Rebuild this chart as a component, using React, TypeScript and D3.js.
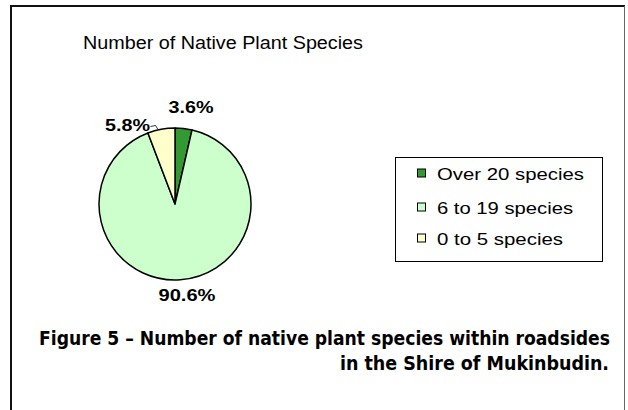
import React from "react";
import * as d3 from "d3";

const categories = ["Over 20 species", "6 to 19 species", "0 to 5 species"];
const values = [3.6, 90.6, 5.8];
const labels = ["3.6%", "90.6%", "5.8%"];
const colors = ["#339933", "#CCFFCC", "#FFFFCC"];
const title = "Number of Native Plant Species";
const caption1 = "Figure 5 \u2013 Number of native plant species within roadsides";
const caption2 = "in the Shire of Mukinbudin.";

export default function App() {
  const W = 628, H = 410;
  const cx = 175, cy = 204, r = 76;
  const pie = d3.pie<number>().sort(null).startAngle(0).endAngle(2 * Math.PI);
  const arcs = pie(values);
  const arc = d3.arc<d3.PieArcDatum<number>>().innerRadius(0).outerRadius(r);

  // label layout (Excel-style placement around the pie)
  const labelPos = [
    { x: 168.5, y: 113, len: 45 },
    { x: 158.5, y: 301, len: 57 },
    { x: 105, y: 130.5, len: 45 },
  ];
  const legendRowsY = [172.5, 206.5, 237.5];
  const legendTextLen = [147, 136, 126];
  const sans = "'Liberation Sans', Arial, sans-serif";
  const capFont = "'Liberation Sans Narrow', 'DejaVu Sans Condensed', 'Liberation Sans', sans-serif";

  return (
    <svg width={W} height={H} style={{ position: "absolute", left: 0, top: 0, background: "#fff" }}>
      <rect x={0} y={0} width={W} height={H} fill="#fff" />
      {/* outer frame */}
      <line x1={11} y1={5} x2={11} y2={H} stroke="#111" strokeWidth={2} />
      <line x1={10} y1={6} x2={625} y2={6} stroke="#111" strokeWidth={2} />
      <line x1={624.5} y1={6} x2={624.5} y2={H} stroke="#666" strokeWidth={1} />

      <text x={83} y={49} fontFamily={sans} fontSize={17.5} textLength={280} lengthAdjust="spacingAndGlyphs" fill="#000">
        {title}
      </text>

      <g transform={`translate(${cx},${cy})`}>
        {arcs.map((a, i) => (
          <path key={i} d={arc(a) || ""} fill={colors[i]} stroke="#000" strokeWidth={1.5} strokeLinejoin="round" />
        ))}
      </g>

      {/* leader line for 5.8% */}
      <path d="M150.5,126.5 L155.5,125.5 L158,129.5" fill="none" stroke="#000" strokeWidth={0.8} />

      {labels.map((t, i) => (
        <text key={i} x={labelPos[i].x} y={labelPos[i].y} fontFamily={sans} fontWeight="bold" fontSize={16.5}
          textLength={labelPos[i].len} lengthAdjust="spacingAndGlyphs" fill="#000">
          {t}
        </text>
      ))}

      {/* legend */}
      <rect x={395.5} y={157.5} width={207} height={104} fill="#fff" stroke="#000" strokeWidth={1} />
      {categories.map((c, i) => (
        <g key={c}>
          <rect x={417.5} y={legendRowsY[i] - 3.5} width={8} height={8} fill={colors[i]} stroke="#000" strokeWidth={1} />
          <text x={437} y={legendRowsY[i] + 7} fontFamily={sans} fontSize={16.5} textLength={legendTextLen[i]}
            lengthAdjust="spacingAndGlyphs" fill="#000">
            {c}
          </text>
        </g>
      ))}

      {/* caption */}
      <text x={39} y={345} fontFamily={capFont}
        fontWeight="bold" fontSize={19} textLength={571} lengthAdjust="spacingAndGlyphs" fill="#000">
        {caption1}
      </text>
      <text x={340} y={370} fontFamily={capFont}
        fontWeight="bold" fontSize={19} textLength={269} lengthAdjust="spacingAndGlyphs" fill="#000">
        {caption2}
      </text>
    </svg>
  );
}
